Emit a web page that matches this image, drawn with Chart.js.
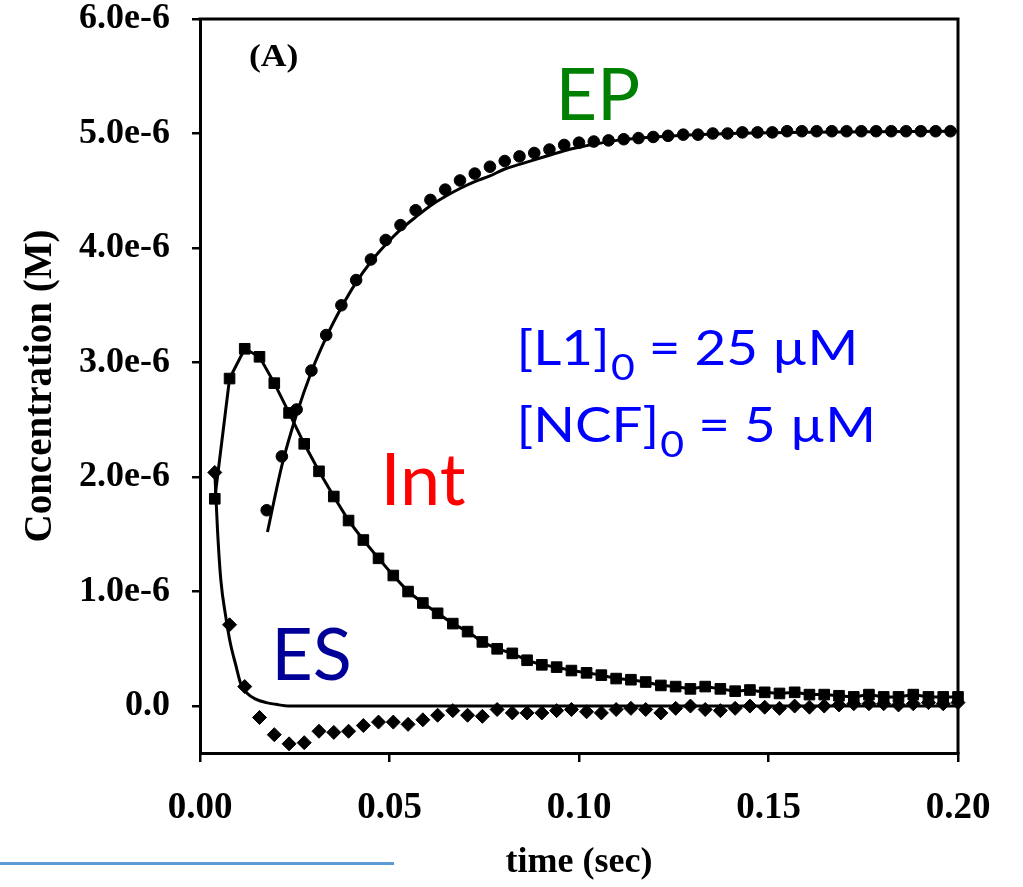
<!DOCTYPE html>
<html>
<head>
<meta charset="utf-8">
<script src="https://cdn.jsdelivr.net/npm/chart.js@4.4.0/dist/chart.umd.min.js"></script>
<style>
    body { margin: 0; background: #fff; }
    #wrap { position: relative; width: 1023px; height: 887px; }
    #deco { position: absolute; left: 0; top: 862px; width: 394px; height: 3px; background: #5b9bd5; }
</style>
</head>
<body>
<div id="wrap">
    <canvas id="myChart"></canvas>
    <div id="deco"></div>
</div>
<script>
// sample times (sec) for the ES and Int points
var time_pts = [0.0039, 0.0078, 0.0118, 0.0157, 0.0196, 0.0235, 0.0275, 0.0314, 0.0353, 0.0392,
    0.0431, 0.0471, 0.0510, 0.0549, 0.0588, 0.0627, 0.0667, 0.0706, 0.0745, 0.0784,
    0.0824, 0.0863, 0.0902, 0.0941, 0.0980, 0.1020, 0.1059, 0.1098, 0.1137, 0.1176,
    0.1216, 0.1255, 0.1294, 0.1333, 0.1373, 0.1412, 0.1451, 0.1490, 0.1529, 0.1569,
    0.1608, 0.1647, 0.1686, 0.1725, 0.1765, 0.1804, 0.1843, 0.1882, 0.1922, 0.1961, 0.2000];

// concentrations in units of 1e-6 M
var int_values = [1.81, 2.86, 3.12, 3.05, 2.82, 2.56, 2.29, 2.05, 1.83, 1.62,
    1.45, 1.29, 1.14, 1.00, 0.90, 0.81, 0.72, 0.65, 0.56, 0.50,
    0.46, 0.40, 0.36, 0.34, 0.31, 0.29, 0.27, 0.24, 0.23, 0.21,
    0.18, 0.17, 0.15, 0.17, 0.15, 0.13, 0.14, 0.12, 0.11, 0.12,
    0.10, 0.10, 0.09, 0.08, 0.10, 0.08, 0.08, 0.10, 0.08, 0.08, 0.08];

var es_values = [2.04, 0.71, 0.17, -0.10, -0.25, -0.33, -0.32, -0.22, -0.23, -0.22,
    -0.17, -0.14, -0.14, -0.16, -0.12, -0.08, -0.04, -0.08, -0.09, -0.03,
    -0.06, -0.06, -0.06, -0.04, -0.03, -0.05, -0.06, -0.03, -0.02, -0.03,
    -0.06, -0.02, 0.00, -0.03, -0.04, -0.02, 0.00, -0.01, -0.02, 0.00,
    -0.01, 0.00, 0.01, 0.02, 0.02, 0.02, 0.01, 0.02, 0.03, 0.02, 0.03];

// EP points sit half a step off the other series
var ep_times = [0.0176, 0.0216, 0.0255, 0.0294, 0.0333, 0.0373, 0.0412, 0.0451, 0.0490, 0.0529,
    0.0569, 0.0608, 0.0647, 0.0686, 0.0725, 0.0765, 0.0804, 0.0843, 0.0882, 0.0922,
    0.0961, 0.1000, 0.1039, 0.1078, 0.1118, 0.1157, 0.1196, 0.1235, 0.1275, 0.1314,
    0.1353, 0.1392, 0.1431, 0.1471, 0.1510, 0.1549, 0.1588, 0.1627, 0.1667, 0.1706,
    0.1745, 0.1784, 0.1824, 0.1863, 0.1902, 0.1941, 0.1980];
var ep_values = [1.71, 2.18, 2.59, 2.93, 3.24, 3.50, 3.72, 3.90, 4.07, 4.20,
    4.33, 4.42, 4.51, 4.59, 4.65, 4.71, 4.76, 4.80, 4.83, 4.86,
    4.90, 4.92, 4.93, 4.94, 4.95, 4.96, 4.97, 4.98, 4.99, 4.99,
    5.00, 5.00, 5.01, 5.01, 5.01, 5.02, 5.02, 5.02, 5.02, 5.02,
    5.02, 5.02, 5.02, 5.02, 5.02, 5.02, 5.02];

// fitted curves
var ep_fit_times = [0.0178, 0.0216, 0.0255, 0.0294, 0.0333, 0.0373, 0.0412, 0.0451, 0.0490, 0.0529,
    0.0569, 0.0608, 0.0647, 0.0686, 0.0725, 0.0765, 0.0804, 0.0843, 0.0882, 0.0922,
    0.0961, 0.100, 0.110, 0.120, 0.140, 0.160, 0.200];
var ep_fit_values = [1.52, 2.10, 2.55, 2.92, 3.22, 3.48, 3.70, 3.88, 4.03, 4.16,
    4.27, 4.37, 4.45, 4.52, 4.58, 4.63, 4.69, 4.73, 4.77, 4.81,
    4.85, 4.88, 4.94, 4.97, 5.00, 5.01, 5.02];

var es_fit_times = [0.0039, 0.0046, 0.0055, 0.0068, 0.0080, 0.0095, 0.0107, 0.0125, 0.0147, 0.0175, 0.0200, 0.0235, 0.0300, 0.2000];
var es_fit_values = [2.05, 1.55, 1.10, 0.78, 0.55, 0.35, 0.20, 0.11, 0.06, 0.03, 0.015, 0.0, 0.0, 0.0];

var x_ticks = [0, 0.05, 0.10, 0.15, 0.20];
var y_ticks = [0, 1, 2, 3, 4, 5, 6];

var conditions = [['[L1]', '0', ' = 25 \u00b5M'], ['[NCF]', '0', ' = 5 \u00b5M']];

function pairs(xs, ys){
    var out = [];
    for(var i = 0; i < xs.length; i++){
        out.push({x: xs[i], y: ys[i]});
    }
    return out;
}

var serif = 'Liberation Serif';

// closes the box on the top and right
var framePlugin = {
    id: 'frame',
    beforeDatasetsDraw: function(chart){
        var c = chart.ctx, a = chart.chartArea;
        c.save();
        c.strokeStyle = '#000';
        c.lineWidth = 3;
        c.beginPath();
        c.moveTo(a.left - 1.5, a.top);
        c.lineTo(a.right, a.top);
        c.lineTo(a.right, a.bottom + 1.5);
        c.stroke();
        c.restore();
    }
};

var labelPlugin = {
    id: 'labels',
    afterDatasetsDraw: function(chart){
        var c = chart.ctx;
        var xs = chart.scales.x, ys = chart.scales.y;
        c.save();
        c.textAlign = 'left';
        c.textBaseline = 'alphabetic';

        c.fillStyle = '#000';
        c.font = 'bold 31px "' + serif + '"';
        c.save();
        c.translate(xs.getPixelForValue(0.0129), ys.getPixelForValue(5.59));
        c.scale(1.15, 1);
        c.fillText('(A)', 0, 0);
        c.restore();

        c.font = '72px Lato';
        c.fillStyle = '#008000';
        c.fillText('EP', xs.getPixelForValue(0.0938), ys.getPixelForValue(5.12));
        c.fillStyle = '#ff0000';
        c.fillText('Int', xs.getPixelForValue(0.0476), ys.getPixelForValue(1.755));
        c.fillStyle = '#000099';
        c.fillText('ES', xs.getPixelForValue(0.0188), ys.getPixelForValue(0.227));

        // concentrations, with subscripts
        c.fillStyle = '#0000ff';
        var base_y = [2.98, 2.31];
        for(var i = 0; i < conditions.length; i++){
            var px = xs.getPixelForValue(0.0835);
            var py = ys.getPixelForValue(base_y[i]);
            c.save();
            c.translate(px, py);
            c.scale(1.14, 1);
            c.font = '48px Lato';
            c.fillText(conditions[i][0], 0, 0);
            var w = c.measureText(conditions[i][0]).width;
            c.font = '36px Lato';
            c.fillText(conditions[i][1], w + 1, 15);
            w += c.measureText(conditions[i][1]).width + 1;
            c.font = '48px Lato';
            c.fillText(conditions[i][2], w, 0);
            c.restore();
        }
        c.restore();
    }
};

var ctx = document.getElementById('myChart').getContext('2d');
var myChart = new Chart(ctx, {
    type: 'scatter',
    data: {
        datasets: [{
            label: 'EP fit',
            data: pairs(ep_fit_times, ep_fit_values),
            showLine: true,
            pointRadius: 0,
            borderColor: '#000',
            borderWidth: 3,
            cubicInterpolationMode: 'monotone',
            clip: false
        }, {
            label: 'EP',
            data: pairs(ep_times, ep_values),
            showLine: false,
            pointStyle: 'circle',
            pointRadius: 5.8,
            pointBackgroundColor: '#000',
            pointBorderColor: '#000',
            pointBorderWidth: 1,
            clip: false
        }, {
            label: 'ES fit',
            data: pairs(es_fit_times, es_fit_values),
            showLine: true,
            pointRadius: 0,
            borderColor: '#000',
            borderWidth: 3,
            cubicInterpolationMode: 'monotone',
            clip: false
        }, {
            label: 'ES',
            data: pairs(time_pts, es_values),
            showLine: false,
            pointStyle: 'rectRot',
            pointRadius: 7,
            pointBackgroundColor: '#000',
            pointBorderColor: '#000',
            pointBorderWidth: 1,
            clip: false
        }, {
            label: 'Int',
            data: pairs(time_pts, int_values),
            showLine: true,
            borderColor: '#000',
            borderWidth: 3,
            tension: 0,
            pointStyle: 'rect',
            pointRadius: 7.5,
            pointBackgroundColor: '#000',
            pointBorderColor: '#000',
            pointBorderWidth: 1,
            clip: false
        }]
    },
    options: {
        responsive: true,
        maintainAspectRatio: false,
        animation: false,
        devicePixelRatio: 1,
        layout: {padding: {top: 19, right: 65, left: 0, bottom: 0}},
        plugins: {
            legend: {display: false},
            tooltip: {enabled: false}
        },
        scales: {
            x: {
                type: 'linear',
                min: x_ticks[0],
                max: x_ticks[x_ticks.length - 1],
                afterBuildTicks: function(scale){
                    scale.ticks = x_ticks.map(function(v){ return {value: v}; });
                },
                afterFit: function(scale){
                    scale.height = 134;
                    scale.paddingLeft = 0;
                    scale.paddingRight = 0;
                },
                ticks: {
                    padding: 24,
                    color: '#000',
                    font: {family: serif, size: 37, weight: 'bold'},
                    callback: function(v){ return v.toFixed(2); }
                },
                grid: {display: true, drawOnChartArea: false, drawTicks: true, tickLength: 9, color: '#000', lineWidth: 2.5},
                border: {display: true, color: '#000', width: 3},
                title: {
                    display: true,
                    text: 'time (sec)',
                    color: '#000',
                    font: {family: serif, size: 36, weight: 'bold'},
                    padding: {top: 0, bottom: 3}
                }
            },
            y: {
                type: 'linear',
                min: -0.41,
                max: y_ticks[y_ticks.length - 1],
                afterBuildTicks: function(scale){
                    scale.ticks = y_ticks.map(function(v){ return {value: v}; });
                },
                afterFit: function(scale){
                    scale.width = 200;
                    scale.paddingTop = 0;
                    scale.paddingBottom = 0;
                },
                ticks: {
                    padding: 22,
                    color: '#000',
                    font: {family: serif, size: 36, weight: 'bold'},
                    callback: function(v){ return v === 0 ? '0.0' : v.toFixed(1) + 'e-6'; }
                },
                grid: {display: true, drawOnChartArea: false, drawTicks: true, tickLength: 8, color: '#000', lineWidth: 2.5},
                border: {display: true, color: '#000', width: 3},
                title: {
                    display: true,
                    text: 'Concentration (M)',
                    color: '#000',
                    font: {family: serif, size: 39, weight: 'bold'},
                    padding: {top: 18, bottom: 0}
                }
            }
        }
    },
    plugins: [framePlugin, labelPlugin]
});
</script>
</body>
</html>
